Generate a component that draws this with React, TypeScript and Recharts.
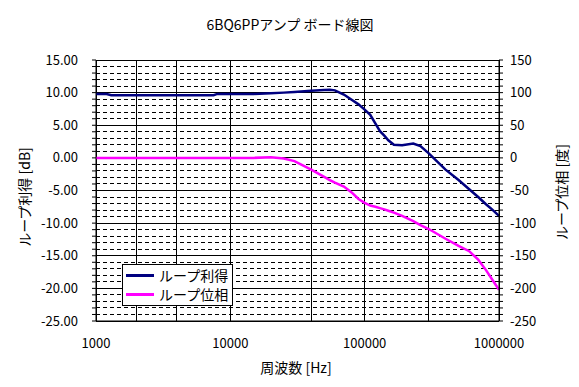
import React from "react";
import {
  LineChart,
  Line,
  XAxis,
  YAxis,
  CartesianGrid,
} from "recharts";

// measured points (Hz / dB / deg)
const freqs = [
  1000, 1200, 1300, 2000, 5000, 7500, 8000, 10000, 15000, 20000, 25000, 30000,
  40000, 50000, 55000, 60000, 70000, 80000, 90000, 100000, 110000, 120000,
  130000, 140000, 150000, 165000, 190000, 230000, 260000, 300000, 400000,
  500000, 600000, 700000, 800000, 900000, 1000000,
];
const gainDb = [
  9.8, 9.8, 9.6, 9.6, 9.6, 9.6, 9.8, 9.8, 9.8, 9.9, 10.0, 10.1, 10.3, 10.4,
  10.45, 10.35, 9.7, 8.9, 8.2, 7.4, 6.6, 5.3, 4.1, 3.4, 2.7, 2.0, 1.95, 2.2,
  1.8, 0.7, -1.8, -3.4, -4.8, -6.0, -7.1, -8.0, -8.9,
];
const phaseDeg = [
  0, 0, 0, 0, 0, 0, 0, 0, 0, 1, -1, -5, -18, -29, -34, -38, -44, -53, -63,
  -69, -73, -75, -77, -79, -81, -84, -89, -97, -103, -109, -124, -135, -143,
  -156, -172, -188, -202,
];

const xTicks = [1000, 10000, 100000, 1000000];
const leftMajor = [-25, -20, -15, -10, -5, 0, 5, 10, 15];

// grid helpers
const leftAll: number[] = [];
for (let v = -25; v <= 15; v++) leftAll.push(v);
const leftMinor = leftAll.filter((v) => v % 5 !== 0);
const rightAll: number[] = [];
for (let v = -250; v <= 150; v += 10) rightAll.push(v);
const xGrid: number[] = [];
[1000, 10000, 100000].forEach((d) => {
  for (let k = 1; k <= 9; k++) xGrid.push(d * k);
});
xGrid.push(1000000);

const data = freqs.map((f, i) => ({ f, gain: gainDb[i], phase: phaseDeg[i] }));

const FONT = '"Noto Sans CJK JP", "Noto Sans", sans-serif';
const tickStyle = { fontFamily: FONT, fontSize: 13, fill: "#000" };

const series = [
  { name: "ループ利得", color: "#000080" },
  { name: "ループ位相", color: "#FF00FF" },
];

const LegendBox = () => (
  <div
    style={{
      position: "absolute",
      left: 122,
      top: 264,
      width: 106,
      border: "1px solid #000",
      background: "#fff",
      padding: "1px 0 1px 3px",
      fontSize: 14,
      color: "#000",
      lineHeight: "19px",
    }}
  >
    {series.map((it) => (
      <div key={it.name} style={{ display: "flex", alignItems: "center" }}>
        <span
          style={{
            display: "inline-block",
            width: 28,
            height: 3,
            background: it.color,
            marginRight: 5,
          }}
        />
        <span>{it.name}</span>
      </div>
    ))}
  </div>
);

const textBase: React.CSSProperties = {
  position: "absolute",
  fontSize: 14,
  whiteSpace: "nowrap",
  color: "#000",
};

export default function App() {
  return (
    <div
      style={{
        position: "absolute",
        left: 0,
        top: 0,
        width: 579,
        height: 387,
        background: "#fff",
        fontFamily: FONT,
      }}
    >
      <LineChart
        width={579}
        height={387}
        data={data}
        margin={{ top: 60, right: 0, bottom: 0, left: 0 }}
      >
        <CartesianGrid
          yAxisId="left"
          vertical={false}
          horizontalValues={leftMinor}
          stroke="#000"
          strokeDasharray="4 3"
          shapeRendering="crispEdges"
        />
        <CartesianGrid
          yAxisId="left"
          horizontalValues={leftMajor}
          verticalValues={xGrid}
          stroke="#000"
          shapeRendering="crispEdges"
        />
        <XAxis
          dataKey="f"
          type="number"
          scale="log"
          domain={[1000, 1000000]}
          ticks={xTicks}
          allowDataOverflow
          height={66}
          axisLine={{ stroke: "#000" }}
          tickLine={false}
          tickSize={6}
          tickMargin={12}
          tick={tickStyle}
        />
        <YAxis
          yAxisId="left"
          type="number"
          domain={[-25, 15]}
          ticks={leftAll}
          interval={0}
          width={96}
          axisLine={{ stroke: "#000" }}
          tickLine={{ stroke: "#000" }}
          tickSize={4}
          tickMargin={14}
          tick={tickStyle}
          tickFormatter={(v: number) => (v % 5 === 0 ? v.toFixed(2) : "")}
        />
        <YAxis
          yAxisId="right"
          orientation="right"
          type="number"
          domain={[-250, 150]}
          ticks={rightAll}
          interval={0}
          width={80}
          axisLine={{ stroke: "#000" }}
          tickLine={{ stroke: "#000" }}
          tickSize={4}
          tickMargin={7}
          tick={tickStyle}
          tickFormatter={(v: number) => (v % 50 === 0 ? String(v) : "")}
        />
        <Line
          yAxisId="left"
          type="linear"
          dataKey="gain"
          name="ループ利得"
          stroke="#000080"
          strokeWidth={2.5}
          dot={false}
          isAnimationActive={false}
        />
        <Line
          yAxisId="right"
          type="linear"
          dataKey="phase"
          name="ループ位相"
          stroke="#FF00FF"
          strokeWidth={2.5}
          dot={false}
          isAnimationActive={false}
        />
      </LineChart>
      <LegendBox />
      <div style={{ ...textBase, left: 290, top: 14, transform: "translateX(-50%)" }}>
        6BQ6PPアンプ ボード線図
      </div>
      <div style={{ ...textBase, left: 296, top: 357, transform: "translateX(-50%)" }}>
        周波数 [Hz]
      </div>
      <div
        style={{
          ...textBase,
          left: 24,
          top: 197,
          transform: "translate(-50%, -50%) rotate(-90deg)",
        }}
      >
        ループ利得 [dB]
      </div>
      <div
        style={{
          ...textBase,
          left: 561,
          top: 192,
          transform: "translate(-50%, -50%) rotate(-90deg)",
        }}
      >
        ループ位相 [度]
      </div>
    </div>
  );
}
